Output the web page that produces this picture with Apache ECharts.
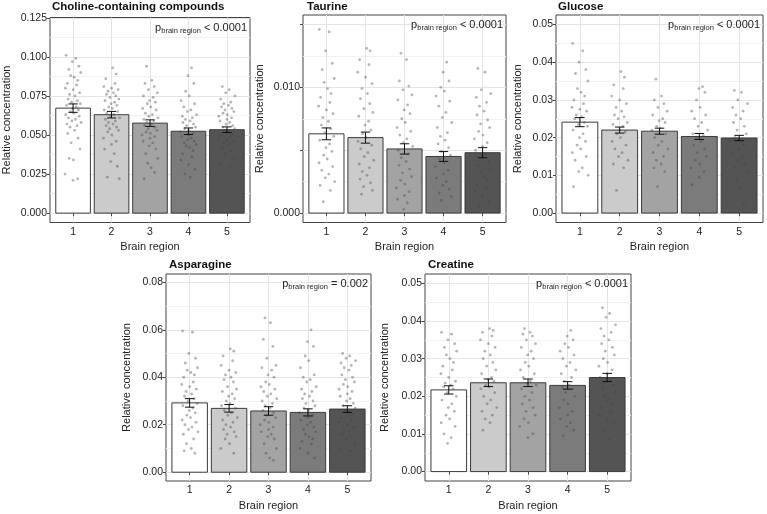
<!DOCTYPE html>
<html>
<head>
<meta charset="utf-8">
<script src="https://cdn.jsdelivr.net/npm/echarts@6/dist/echarts.min.js"></script>
<style>
  html, body { margin: 0; padding: 0; background: #fff; }
  #main { width: 767px; height: 514px; }
</style>
</head>
<body>
<div id="main"></div>
<script>
// brain regions + bar fills (white -> dark grey)
var regions = [1, 2, 3, 4, 5]
var barColors = ['#ffffff', '#cbcbcb', '#a3a3a3', '#7b7b7b', '#545454']

// mean +/- SE per region
var cholineMean = [0.0672, 0.0630, 0.0576, 0.0524, 0.0534]
var cholineSe = [0.0027, 0.0021, 0.0021, 0.0021, 0.0018]
var taurineMean = [0.0063, 0.0060, 0.0051, 0.0045, 0.0048]
var taurineSe = [0.00047, 0.00044, 0.00041, 0.00039, 0.00040]
var glucoseMean = [0.0241, 0.0220, 0.0217, 0.0203, 0.0199]
var glucoseSe = [0.0012, 0.0008, 0.0008, 0.0008, 0.0007]
var asparagineMean = [0.0292, 0.0269, 0.0258, 0.0252, 0.0266]
var asparagineSe = [0.0018, 0.0016, 0.0018, 0.0015, 0.0014]
var creatineMean = [0.0217, 0.0236, 0.0236, 0.0229, 0.0250]
var creatineSe = [0.0011, 0.0010, 0.0010, 0.0010, 0.0011]

// individual samples
var cholinePts = [
  [0.101, 0.099, 0.097, 0.094, 0.092, 0.090, 0.088, 0.087, 0.085, 0.083, 0.082, 0.080, 0.079, 0.077, 0.076, 0.075, 0.073, 0.072, 0.071, 0.070, 0.069, 0.068, 0.067, 0.066, 0.065, 0.064, 0.063, 0.062, 0.061, 0.060, 0.059, 0.058, 0.057, 0.056, 0.055, 0.053, 0.051, 0.048, 0.045, 0.041, 0.035, 0.034, 0.025, 0.022, 0.021],
  [0.093, 0.089, 0.086, 0.083, 0.081, 0.080, 0.079, 0.078, 0.077, 0.076, 0.075, 0.074, 0.073, 0.072, 0.071, 0.070, 0.069, 0.068, 0.067, 0.066, 0.065, 0.064, 0.063, 0.062, 0.061, 0.060, 0.059, 0.058, 0.057, 0.056, 0.055, 0.054, 0.053, 0.052, 0.050, 0.048, 0.046, 0.044, 0.041, 0.038, 0.033, 0.030, 0.023, 0.022],
  [0.094, 0.085, 0.083, 0.081, 0.079, 0.077, 0.075, 0.074, 0.072, 0.071, 0.070, 0.068, 0.067, 0.066, 0.064, 0.063, 0.062, 0.061, 0.060, 0.059, 0.058, 0.057, 0.056, 0.055, 0.054, 0.053, 0.052, 0.051, 0.050, 0.049, 0.048, 0.046, 0.045, 0.043, 0.041, 0.038, 0.035, 0.032, 0.029, 0.026, 0.022],
  [0.093, 0.088, 0.083, 0.078, 0.075, 0.072, 0.070, 0.068, 0.066, 0.065, 0.063, 0.062, 0.061, 0.060, 0.059, 0.058, 0.057, 0.056, 0.055, 0.054, 0.053, 0.052, 0.051, 0.050, 0.049, 0.048, 0.047, 0.046, 0.045, 0.044, 0.043, 0.042, 0.040, 0.038, 0.036, 0.034, 0.031, 0.028, 0.025, 0.023],
  [0.081, 0.079, 0.077, 0.075, 0.073, 0.071, 0.070, 0.069, 0.068, 0.067, 0.066, 0.065, 0.064, 0.063, 0.062, 0.061, 0.060, 0.059, 0.058, 0.057, 0.056, 0.055, 0.054, 0.053, 0.052, 0.051, 0.050, 0.049, 0.048, 0.047, 0.046, 0.045, 0.044, 0.042, 0.040, 0.038, 0.035, 0.031, 0.029]
]
var taurinePts = [
  [0.0146, 0.0144, 0.0129, 0.0119, 0.0114, 0.0107, 0.0104, 0.0099, 0.0095, 0.0092, 0.0088, 0.0085, 0.0082, 0.0079, 0.0076, 0.0073, 0.0070, 0.0067, 0.0064, 0.0061, 0.0058, 0.0055, 0.0052, 0.0049, 0.0046, 0.0043, 0.0040, 0.0037, 0.0034, 0.0031, 0.0028, 0.0025, 0.0022, 0.0018, 0.0009],
  [0.0131, 0.0129, 0.0122, 0.0118, 0.0112, 0.0108, 0.0103, 0.0099, 0.0095, 0.0091, 0.0087, 0.0083, 0.0080, 0.0077, 0.0073, 0.0070, 0.0066, 0.0063, 0.0060, 0.0057, 0.0054, 0.0051, 0.0048, 0.0045, 0.0042, 0.0039, 0.0036, 0.0033, 0.0030, 0.0027, 0.0024, 0.0021, 0.0018, 0.0015],
  [0.0127, 0.0122, 0.0105, 0.0101, 0.0098, 0.0094, 0.0090, 0.0086, 0.0082, 0.0079, 0.0075, 0.0072, 0.0068, 0.0065, 0.0062, 0.0059, 0.0056, 0.0053, 0.0050, 0.0047, 0.0044, 0.0041, 0.0038, 0.0035, 0.0032, 0.0029, 0.0026, 0.0023, 0.0020, 0.0017, 0.0014, 0.0011, 0.0008, 0.0003],
  [0.0120, 0.0112, 0.0105, 0.0100, 0.0097, 0.0093, 0.0089, 0.0085, 0.0080, 0.0076, 0.0072, 0.0068, 0.0064, 0.0061, 0.0058, 0.0055, 0.0052, 0.0049, 0.0046, 0.0043, 0.0040, 0.0037, 0.0034, 0.0031, 0.0028, 0.0025, 0.0022, 0.0019, 0.0016, 0.0013, 0.0010],
  [0.0115, 0.0112, 0.0098, 0.0095, 0.0092, 0.0088, 0.0085, 0.0081, 0.0078, 0.0074, 0.0071, 0.0068, 0.0065, 0.0062, 0.0059, 0.0056, 0.0053, 0.0050, 0.0047, 0.0044, 0.0041, 0.0038, 0.0035, 0.0032, 0.0029, 0.0026, 0.0023, 0.0020, 0.0017, 0.0013, 0.0009, 0.0005]
]
var glucosePts = [
  [0.045, 0.043, 0.040, 0.038, 0.037, 0.035, 0.033, 0.032, 0.031, 0.030, 0.029, 0.028, 0.0275, 0.027, 0.026, 0.0255, 0.025, 0.024, 0.0235, 0.023, 0.022, 0.021, 0.020, 0.019, 0.018, 0.017, 0.016, 0.015, 0.014, 0.012, 0.011, 0.010, 0.007],
  [0.0375, 0.036, 0.034, 0.033, 0.031, 0.030, 0.029, 0.028, 0.027, 0.026, 0.0255, 0.025, 0.024, 0.0235, 0.023, 0.022, 0.0215, 0.021, 0.020, 0.019, 0.018, 0.017, 0.016, 0.015, 0.014, 0.013, 0.012, 0.006],
  [0.0355, 0.031, 0.030, 0.029, 0.028, 0.027, 0.026, 0.025, 0.0245, 0.024, 0.023, 0.0225, 0.022, 0.021, 0.020, 0.019, 0.018, 0.017, 0.016, 0.015, 0.014, 0.013, 0.012, 0.011, 0.007],
  [0.0335, 0.033, 0.032, 0.030, 0.028, 0.027, 0.026, 0.025, 0.024, 0.023, 0.022, 0.021, 0.0205, 0.020, 0.019, 0.018, 0.017, 0.016, 0.015, 0.014, 0.013, 0.012, 0.011, 0.0095, 0.0075],
  [0.0325, 0.032, 0.030, 0.029, 0.028, 0.027, 0.026, 0.025, 0.024, 0.023, 0.022, 0.021, 0.020, 0.0195, 0.019, 0.018, 0.017, 0.016, 0.015, 0.014, 0.013, 0.012, 0.011, 0.0085, 0.0065, 0.0025]
]
var asparaginePts = [
  [0.0595, 0.059, 0.050, 0.048, 0.046, 0.044, 0.043, 0.042, 0.041, 0.040, 0.038, 0.037, 0.036, 0.035, 0.034, 0.033, 0.032, 0.031, 0.030, 0.029, 0.028, 0.027, 0.026, 0.025, 0.024, 0.023, 0.022, 0.021, 0.020, 0.019, 0.018, 0.017, 0.016, 0.014, 0.012, 0.010, 0.009, 0.008],
  [0.052, 0.051, 0.049, 0.047, 0.045, 0.043, 0.042, 0.041, 0.040, 0.039, 0.038, 0.036, 0.035, 0.034, 0.033, 0.032, 0.031, 0.030, 0.029, 0.028, 0.027, 0.026, 0.025, 0.024, 0.023, 0.022, 0.021, 0.020, 0.019, 0.018, 0.017, 0.016, 0.015, 0.014, 0.012, 0.010, 0.008],
  [0.065, 0.063, 0.056, 0.053, 0.048, 0.045, 0.044, 0.043, 0.041, 0.040, 0.038, 0.037, 0.036, 0.035, 0.034, 0.033, 0.032, 0.031, 0.030, 0.029, 0.028, 0.027, 0.026, 0.025, 0.024, 0.023, 0.022, 0.021, 0.020, 0.019, 0.018, 0.017, 0.016, 0.015, 0.014, 0.012, 0.010, 0.008, 0.006, 0.005],
  [0.060, 0.055, 0.053, 0.049, 0.047, 0.044, 0.041, 0.040, 0.039, 0.038, 0.036, 0.035, 0.034, 0.033, 0.032, 0.031, 0.030, 0.029, 0.028, 0.027, 0.026, 0.025, 0.024, 0.023, 0.022, 0.021, 0.020, 0.019, 0.018, 0.017, 0.016, 0.015, 0.014, 0.013, 0.012, 0.010, 0.008, 0.006],
  [0.050, 0.049, 0.048, 0.047, 0.046, 0.045, 0.044, 0.043, 0.041, 0.040, 0.039, 0.038, 0.037, 0.036, 0.035, 0.034, 0.033, 0.032, 0.031, 0.030, 0.029, 0.028, 0.027, 0.026, 0.025, 0.024, 0.023, 0.022, 0.021, 0.020, 0.019, 0.018, 0.017, 0.016, 0.015, 0.014, 0.012, 0.010, 0.009]
]
var creatinePts = [
  [0.037, 0.0365, 0.035, 0.034, 0.033, 0.032, 0.031, 0.030, 0.029, 0.028, 0.027, 0.026, 0.025, 0.024, 0.0235, 0.023, 0.0225, 0.022, 0.021, 0.020, 0.019, 0.018, 0.017, 0.016, 0.015, 0.014, 0.013, 0.012, 0.010, 0.009, 0.0075],
  [0.038, 0.0375, 0.037, 0.036, 0.035, 0.034, 0.033, 0.032, 0.031, 0.030, 0.029, 0.028, 0.027, 0.026, 0.025, 0.0245, 0.024, 0.023, 0.0225, 0.022, 0.021, 0.020, 0.019, 0.018, 0.017, 0.016, 0.015, 0.014, 0.013, 0.011],
  [0.038, 0.037, 0.0365, 0.036, 0.035, 0.034, 0.033, 0.032, 0.031, 0.030, 0.029, 0.028, 0.027, 0.026, 0.025, 0.024, 0.0235, 0.023, 0.022, 0.021, 0.020, 0.019, 0.018, 0.017, 0.016, 0.015, 0.014, 0.013, 0.012, 0.010, 0.009],
  [0.0375, 0.036, 0.035, 0.034, 0.033, 0.032, 0.031, 0.030, 0.029, 0.028, 0.027, 0.026, 0.025, 0.024, 0.023, 0.0225, 0.022, 0.021, 0.020, 0.019, 0.018, 0.017, 0.016, 0.015, 0.014, 0.013, 0.012, 0.011, 0.0095],
  [0.0435, 0.042, 0.041, 0.039, 0.038, 0.037, 0.036, 0.035, 0.034, 0.033, 0.032, 0.031, 0.030, 0.029, 0.028, 0.027, 0.026, 0.025, 0.0245, 0.024, 0.023, 0.022, 0.021, 0.020, 0.019, 0.018, 0.017, 0.016, 0.015, 0.014, 0.013, 0.011, 0.0085]
]

// horizontal jitter of the dots (region units)
var jitter = [-0.18, 0.07, -0.02, 0.15, -0.11, 0.2, -0.06, 0.03, 0.12, -0.15, 0.09, -0.2, 0.0, 0.17, -0.09, 0.05, -0.13, 0.11, -0.04, 0.19, -0.17, 0.08, -0.01, 0.14, -0.07, 0.02, -0.19, 0.16, -0.12, 0.06, -0.03, 0.21, -0.16, 0.1, -0.08, 0.04, -0.14, 0.13, -0.05, 0.18, -0.1, 0.01, -0.21, 0.12, -0.0]

// axis tick labels and grid lines
var cholineLabels = [0, 0.025, 0.05, 0.075, 0.1, 0.125]
var cholineLines = [0, 0.0125, 0.025, 0.0375, 0.05, 0.0625, 0.075, 0.0875, 0.1, 0.1125, 0.125]
var taurineLabels = [0, 0.01]
var taurineTicks = [0, 0.005, 0.01, 0.015]
var taurineLines = [0, 0.0025, 0.005, 0.0075, 0.01, 0.0125, 0.015]
var glucoseLabels = [0, 0.01, 0.02, 0.03, 0.04, 0.05]
var glucoseLines = [0, 0.005, 0.01, 0.015, 0.02, 0.025, 0.03, 0.035, 0.04, 0.045, 0.05]
var asparagineLabels = [0, 0.02, 0.04, 0.06, 0.08]
var asparagineLines = [0, 0.01, 0.02, 0.03, 0.04, 0.05, 0.06, 0.07, 0.08]
var creatineLabels = [0, 0.01, 0.02, 0.03, 0.04, 0.05]
var creatineLines = [0, 0.005, 0.01, 0.015, 0.02, 0.025, 0.03, 0.035, 0.04, 0.045, 0.05]

var panels = [
  { title: 'Choline-containing compounds', p: '< 0.0001', mean: cholineMean, se: cholineSe, pts: cholinePts,
    labels: cholineLabels, ticks: cholineLabels, lines: cholineLines, digits: 3, min: -0.006, max: 0.1252,
    box: { left: 46, top: 17.5, width: 204, height: 205 }, titleX: 52, titleY: 0.5, nameGap: 38 },
  { title: 'Taurine', p: '< 0.0001', mean: taurineMean, se: taurineSe, pts: taurinePts,
    labels: taurineLabels, ticks: taurineTicks, lines: taurineLines, digits: 3, min: -0.00075, max: 0.01575,
    box: { left: 303, top: 15, width: 203, height: 207.5 }, titleX: 307, titleY: 0.5, nameGap: 38 },
  { title: 'Glucose', p: '< 0.0001', mean: glucoseMean, se: glucoseSe, pts: glucosePts,
    labels: glucoseLabels, ticks: glucoseLabels, lines: glucoseLines, digits: 2, min: -0.0025, max: 0.0525,
    box: { left: 556, top: 15, width: 207, height: 207.5 }, titleX: 558, titleY: 0.5, nameGap: 33 },
  { title: 'Asparagine', p: '= 0.002', mean: asparagineMean, se: asparagineSe, pts: asparaginePts,
    labels: asparagineLabels, ticks: asparagineLabels, lines: asparagineLines, digits: 2, min: -0.0037, max: 0.0835,
    box: { left: 166, top: 274, width: 205, height: 207 }, titleX: 169, titleY: 259, nameGap: 34 },
  { title: 'Creatine', p: '< 0.0001', mean: creatineMean, se: creatineSe, pts: creatinePts,
    labels: creatineLabels, ticks: creatineLabels, lines: creatineLines, digits: 2, min: -0.0025, max: 0.0525,
    box: { left: 425, top: 274, width: 206, height: 207 }, titleX: 428, titleY: 259, nameGap: 35 }
]

var font = 'Liberation Sans'
var textColor = '#222'

function renderBar (params, api) {
  var x = api.value(0)
  var y = api.value(1)
  var p0 = api.coord([x - 0.45, y])
  var p1 = api.coord([x + 0.45, 0])
  return {
    type: 'rect',
    shape: { x: p0[0], y: p0[1], width: p1[0] - p0[0], height: p1[1] - p0[1] },
    style: { fill: barColors[params.dataIndex], stroke: '#3a3a3a', lineWidth: 1 }
  }
}

function renderErr (params, api) {
  var x = api.value(0)
  var lo = api.coord([x, api.value(1)])
  var hi = api.coord([x, api.value(2)])
  var l = api.coord([x - 0.12, 0])[0]
  var r = api.coord([x + 0.12, 0])[0]
  var st = { stroke: '#111', lineWidth: 1 }
  return {
    type: 'group',
    children: [
      { type: 'line', shape: { x1: lo[0], y1: lo[1], x2: hi[0], y2: hi[1] }, style: st },
      { type: 'line', shape: { x1: l, y1: lo[1], x2: r, y2: lo[1] }, style: st },
      { type: 'line', shape: { x1: l, y1: hi[1], x2: r, y2: hi[1] }, style: st }
    ]
  }
}

var grid = []
var xAxis = []
var yAxis = []
var series = []
var title = []

panels.forEach(function (pn, k) {
  grid.push({
    left: pn.box.left, top: pn.box.top, width: pn.box.width, height: pn.box.height,
    show: true, borderColor: '#444', borderWidth: 1, backgroundColor: '#fff', containLabel: false
  })
  xAxis.push({
    gridIndex: k, type: 'value', min: 0.4, max: 5.6,
    name: 'Brain region', nameLocation: 'middle', nameGap: 19,
    nameTextStyle: { fontFamily: font, fontSize: 11, color: textColor },
    axisLine: { show: false },
    axisTick: { show: true, customValues: regions, length: 3, lineStyle: { color: '#444' } },
    axisLabel: { customValues: regions, margin: 4, fontFamily: font, fontSize: 10.5, color: textColor },
    splitLine: { show: true, lineStyle: { color: '#e4e4e4', width: 1 } }
  })
  // grid lines only (major / minor alternate)
  yAxis.push({
    gridIndex: k, type: 'value', min: pn.min, max: pn.max,
    axisLine: { show: false },
    axisTick: { show: false, customValues: pn.lines },
    axisLabel: { show: false },
    splitLine: { show: true, lineStyle: { color: ['#e4e4e4', '#f1f1f1'], width: 1 } }
  })
  // ticks + labels
  yAxis.push({
    gridIndex: k, type: 'value', min: pn.min, max: pn.max, position: 'left',
    name: 'Relative concentration', nameLocation: 'middle', nameGap: pn.nameGap,
    nameTextStyle: { fontFamily: font, fontSize: 11, color: textColor },
    axisLine: { show: false },
    axisTick: { show: true, customValues: pn.ticks, length: 3, lineStyle: { color: '#444' } },
    axisLabel: {
      customValues: pn.labels, margin: 3, fontFamily: font, fontSize: 10.5, color: textColor,
      formatter: function (v) { return v.toFixed(pn.digits) }
    },
    splitLine: { show: false }
  })

  var dots = []
  pn.pts.forEach(function (list, g) {
    list.forEach(function (v, i) {
      dots.push([regions[g] + jitter[(i + g * 7) % jitter.length], v])
    })
  })

  series.push({
    type: 'custom', xAxisIndex: k, yAxisIndex: 2 * k, z: 2,
    renderItem: renderBar,
    data: regions.map(function (r, i) { return [r, pn.mean[i]] })
  })
  series.push({
    type: 'scatter', xAxisIndex: k, yAxisIndex: 2 * k, z: 3,
    symbolSize: 2.8,
    itemStyle: { color: 'rgba(70,70,70,0.5)' },
    data: dots
  })
  series.push({
    type: 'custom', xAxisIndex: k, yAxisIndex: 2 * k, z: 4,
    renderItem: renderErr,
    data: regions.map(function (r, i) { return [r, pn.mean[i] - pn.se[i], pn.mean[i] + pn.se[i]] })
  })

  title.push({
    text: pn.title, left: pn.titleX, top: pn.titleY, padding: 0,
    textStyle: { fontFamily: font, fontSize: 11.5, fontWeight: 'bold', color: '#111' }
  })
  title.push({
    text: '{p|p}{s|brain region}{t| ' + pn.p + '}',
    right: 767 - (pn.box.left + pn.box.width) + 3, top: pn.box.top + 3, padding: 0,
    textStyle: {
      fontWeight: 'normal',
      rich: {
        p: { fontFamily: font, fontSize: 11, fontWeight: 'normal', color: textColor, lineHeight: 14 },
        s: { fontFamily: font, fontSize: 7.5, fontWeight: 'normal', color: textColor, lineHeight: 14, verticalAlign: 'bottom', padding: [5, 0, 0, 0] },
        t: { fontFamily: font, fontSize: 11, fontWeight: 'normal', color: textColor, lineHeight: 14 }
      }
    }
  })
})

var myChart = echarts.init(document.getElementById('main'))
myChart.setOption({
  animation: false,
  backgroundColor: '#fff',
  title: title,
  grid: grid,
  xAxis: xAxis,
  yAxis: yAxis,
  series: series
})
</script>
</body>
</html>
